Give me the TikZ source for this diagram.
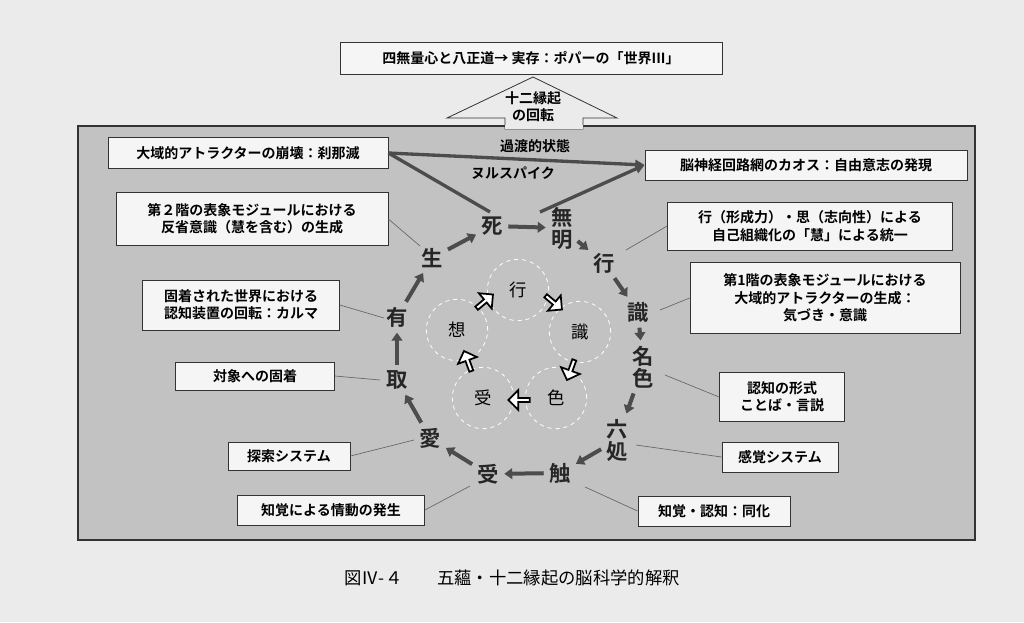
\documentclass[tikz,border=0pt]{standalone}
\usepackage{fontspec}
\setmainfont{Noto Sans CJK JP}
\newfontfamily\jpb{Noto Sans CJK JP Bold}
\usetikzlibrary{shapes.arrows,arrows.meta}
\begin{document}
\begin{tikzpicture}[x=0.75pt,y=-0.75pt,
  lbox/.style={draw=black!80,fill=black!4,line width=0.6pt,font=\jpb\fontsize{10.5}{13}\selectfont,align=center,inner sep=2pt},
  cyc/.style={font=\jpb\fontsize{16}{16.5}\selectfont,inner sep=2pt,align=center,text=black!85},
  carr/.style={draw=black!70,line width=3pt,-{Triangle[length=6pt,width=8pt]},shorten <=2pt,shorten >=2pt},
  inner/.style={circle,draw=white,dashed,line width=0.6pt,minimum size=46pt,font=\fontsize{13}{13}\selectfont},
  hol/.style={single arrow,draw=black,line width=1.3pt,fill=white,minimum height=16pt,minimum width=15pt,single arrow head extend=2.5pt,inner sep=0pt},
  lead/.style={draw=black!60,line width=0.5pt}]
\useasboundingbox (0,0) rectangle (1024,622);
\fill[black!8] (0,0) rectangle (1024,622);
\node[draw=black!80,fill=black!24,minimum width=897*0.75pt,minimum height=414*0.75pt,line width=0.8pt,inner sep=0pt] (frame) at (526.5,333) {};
\node[lbox,minimum width=382*0.75pt,minimum height=32*0.75pt] (top) at (531,58) {四無量心と八正道→ 実存：ポパーの「世界III」};
\draw[black!80,line width=0.6pt,fill=black!8] (533,77) -- (617,118) -- (583,118) -- (583,129) -- (505,129) -- (505,118) -- (447,118) -- cycle;
\fill[black!8] (505.4,125) rectangle (582.6,128.6);
\node[font=\jpb\fontsize{10.5}{13}\selectfont,align=center] (rot) at (533,107) {十二縁起\\の回転};
\node[font=\jpb\fontsize{10.5}{13}\selectfont] (kato) at (535,146) {過渡的状態};
\node[lbox,minimum width=280*0.75pt,minimum height=31*0.75pt] (L0) at (248,153) {大域的アトラクターの崩壊：刹那滅};
\node[lbox,minimum width=322*0.75pt,minimum height=30*0.75pt] (R0) at (806,165) {脳神経回路網のカオス：自由意志の発現};
\node[font=\jpb\fontsize{10.5}{13}\selectfont] (null) at (513,173) {ヌルスパイク};
\coordinate (vl) at (490,212);
\coordinate (vr) at (540,212);
\draw[black!70,line width=2.5pt,-{Triangle[length=7pt,width=7pt]}] (L0.east) -- (R0.west);
\draw[black!70,line width=2.5pt] (L0.east) -- (vl);
\draw[black!70,line width=2.5pt,-{Triangle[length=7pt,width=7pt]}] (vr) -- (R0.west);
% cycle
\node[cyc] (shi) at (492,226) {死};
\node[cyc] (mu) at (562,228) {無\\明};
\node[cyc] (gyo) at (604,263) {行};
\node[cyc] (shiki) at (638,312) {識};
\node[cyc] (mei) at (643,367) {名\\色};
\node[cyc] (roku) at (617,440) {六\\処};
\node[cyc] (soku) at (560,473) {触};
\node[cyc] (ju) at (488,474) {受};
\node[cyc] (ai) at (430,438) {愛};
\node[cyc] (shu) at (397,380) {取};
\node[cyc] (u) at (397,317) {有};
\node[cyc] (sho) at (432,258) {生};
\draw[carr] (shi) -- (mu);
\draw[carr] (mu) -- (gyo);
\draw[carr] (gyo) -- (shiki);
\draw[carr] (shiki) -- (mei);
\draw[carr] (mei) -- (roku);
\draw[carr] (roku) -- (soku);
\draw[carr] (soku) -- (ju);
\draw[carr] (ju) -- (ai);
\draw[carr] (ai) -- (shu);
\draw[carr] (shu) -- (u);
\draw[carr] (u) -- (sho);
\draw[carr] (sho) -- (shi);
% inner
\node[inner] (i1) at (518,290) {行};
\node[inner] (i2) at (580,332) {識};
\node[inner] (i3) at (556,398) {色};
\node[inner] (i4) at (483,398) {受};
\node[inner] (i5) at (457,330) {想};
\node[hol,rotate=-40] (h1) at (553,302) {};
\node[hol,rotate=-110] (h2) at (571,369) {};
\node[hol,rotate=180] (h3) at (520,400) {};
\node[hol,rotate=110] (h4) at (468,362) {};
\node[hol,rotate=40] (h5) at (484,302) {};
% left boxes
\node[lbox,minimum width=272*0.75pt,minimum height=53*0.75pt] (L1) at (252,219) {第２階の表象モジュールにおける\\反省意識（慧を含む）の生成};
\node[lbox,minimum width=197*0.75pt,minimum height=50*0.75pt] (L2) at (241,305) {固着された世界における\\認知装置の回転：カルマ};
\node[lbox,minimum width=159*0.75pt,minimum height=28*0.75pt] (L3) at (255,376) {対象への固着};
\node[lbox,minimum width=122*0.75pt,minimum height=28*0.75pt] (L4) at (289,456) {探索システム};
\node[lbox,minimum width=187*0.75pt,minimum height=30*0.75pt] (L5) at (331,510) {知覚による情動の発生};
\node[lbox,minimum width=285*0.75pt,minimum height=48*0.75pt] (R1) at (810,226) {行（形成力）・思（志向性）による\\自己組織化の「慧」による統一};
\node[lbox,minimum width=270*0.75pt,minimum height=71*0.75pt] (R2) at (825,298) {第1階の表象モジュールにおける\\大域的アトラクターの生成：\\気づき・意識};
\node[lbox,minimum width=125*0.75pt,minimum height=49*0.75pt] (R3) at (782,397) {認知の形式\\ことば・言説};
\node[lbox,minimum width=116*0.75pt,minimum height=30*0.75pt] (R4) at (780,457) {感覚システム};
\node[lbox,minimum width=152*0.75pt,minimum height=30*0.75pt] (R5) at (714,511) {知覚・認知：同化};
\coordinate (a1) at (420,246); \draw[lead] (L1.east) -- (a1);
\coordinate (a2) at (384,318); \draw[lead] (L2.east) -- (a2);
\coordinate (a3) at (380,380); \draw[lead] (L3.east) -- (a3);
\coordinate (a4) at (414,440); \draw[lead] (L4.east) -- (a4);
\coordinate (a5) at (470,486); \draw[lead] (L5.east) -- (a5);
\coordinate (b1) at (626,250); \draw[lead] (R1.west) -- (b1);
\coordinate (b2) at (660,310); \draw[lead] (R2.west) -- (b2);
\coordinate (b3) at (665,375); \draw[lead] (R3.west) -- (b3);
\coordinate (b4) at (636,445); \draw[lead] (R4.west) -- (b4);
\coordinate (b5) at (585,487); \draw[lead] (R5.west) -- (b5);
\node[font=\fontsize{13}{13}\selectfont] (cap) at (512,578) {図Ⅳ-４　　五蘊・十二縁起の脳科学的解釈};
\end{tikzpicture}
\end{document}
